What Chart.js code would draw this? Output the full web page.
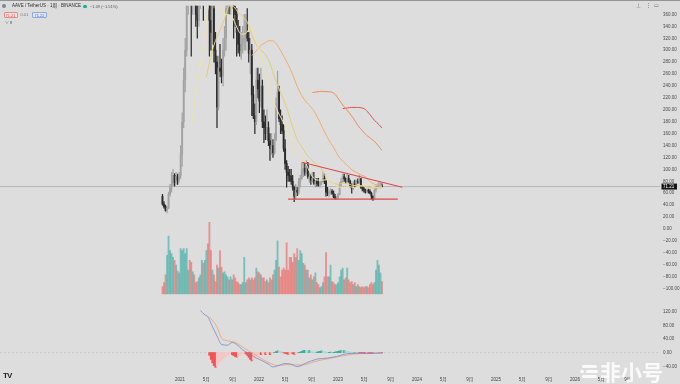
<!DOCTYPE html>
<html>
<head>
<meta charset="utf-8">
<script src="https://cdn.jsdelivr.net/npm/chart.js@4.4.1/dist/chart.umd.min.js"></script>
<style>
  html, body { margin: 0; padding: 0; background: #dddddd; width: 680px; height: 384px; overflow: hidden; }
  body { font-family: 'Liberation Sans', 'Noto Sans CJK SC', sans-serif; }
  #wrap { position: relative; width: 680px; height: 384px; }
  canvas { position: absolute; left: 0; }
  #main { top: 0; }
  #macd { top: 300px; }
  .t { position: absolute; white-space: nowrap; line-height: 1; }
  .box { position: absolute; box-sizing: border-box; border-radius: 1px; text-align: center; line-height: 5px; font-size: 4px; }
</style>
</head>
<body>
<div id="wrap">
  <canvas id="main" width="680" height="300"></canvas>
  <canvas id="macd" width="680" height="84"></canvas>

  <div style="position:absolute;left:0;top:0;width:680px;height:1px;background:#939393"></div>
  <div style="position:absolute;left:1.5px;top:4px;width:4px;height:4px;border-radius:50%;background:#7786a6"></div>
  <div class="t" style="left:12px;top:4px;font-size:4.5px;color:#2b2b2b">AAVE / TetherUS · 1周 · BINANCE</div>
  <div style="position:absolute;left:83px;top:4.5px;width:3.5px;height:3.5px;border-radius:50%;background:#26a69a;box-shadow:0 0 0 1px #bfe3de"></div>
  <div class="t" style="left:90px;top:4.5px;font-size:4px;color:#555">−1.09 (−1.51%)</div>
  <div class="box" style="left:3.5px;top:11.5px;width:14px;height:6px;border:0.5px solid #e58a8a;background:#f3e2e2;color:#e05252">71.21</div>
  <div class="t" style="left:20.5px;top:13px;font-size:4px;color:#777">0.01</div>
  <div class="box" style="left:32px;top:11.5px;width:15px;height:6px;border:0.5px solid #8aa6de;background:#e3e9f4;color:#3d68c8">71.22</div>
  <div class="t" style="left:5px;top:21px;font-size:4px;color:#555">∨ 8</div>

  <div class="t" style="left:636px;top:3px;font-size:5px;color:#666">⊥</div>
  <div class="t" style="left:645.5px;top:3px;font-size:5px;color:#666">⋮</div>
  <div class="t" style="left:654px;top:3px;font-size:5px;color:#666">▭</div>

  <div class="t" style="left:3px;top:372px;font-size:8px;font-weight:bold;color:#1f1f1f;letter-spacing:-1px">TV</div>

  <div style="position:absolute;left:582px;top:365px;width:15px;height:3px;border-radius:2px;background:rgba(255,255,255,0.85)"></div>
  <div style="position:absolute;left:580px;top:370px;width:4px;height:3px;border-radius:2px;background:rgba(255,255,255,0.85)"></div>
  <div style="position:absolute;left:586px;top:370px;width:12px;height:3px;border-radius:2px;background:rgba(255,255,255,0.85)"></div>
  <div style="position:absolute;left:582px;top:375px;width:15px;height:3px;border-radius:2px;background:rgba(255,255,255,0.85)"></div>
  <div class="t" style="left:600px;top:361px;font-size:21px;font-weight:bold;color:rgba(255,255,255,0.85);font-family:'Noto Sans CJK SC',sans-serif">非小号</div>
</div>

<script>
// AAVE / USDT weekly candles, first week starts 2020-10-12
const startDate = Date.UTC(2020, 9, 12);
const opens = [55,42,37,31,35,58,70,75,90,78,88,82,90,125,180,250,300,420,500,480,
  400,420,400,360,350,400,410,470,420,450,540,480,350,330,370,300,280,205,270,265,
  257,300,320,370,410,380,390,440,370,360,330,310,300,310,320,320,330,320,295,300,
  225,190,180,250,235,215,240,180,170,160,170,148,135,140,128,150,210,230,185,175,
  165,135,110,95,90,88,80,70,55,65,62,80,85,100,102,95,107,88,88,82,
  85,77,80,76,74,78,80,85,80,62,60,62,63,60,54,52,52,58,75,80,
  88,84,80,85,80,72,68,76,74,80,78,84,70,68,65,62,65,63,60,55,
  51,65,70,72,72,72.3];
const highs = [58,46,40,38,62,75,95,100,93,95,92,95,140,195,270,320,460,540,590,500,
  450,460,420,390,420,430,500,490,470,560,660,500,380,390,380,330,290,290,310,285,
  320,340,380,440,440,420,480,470,400,370,350,340,330,340,360,360,370,330,320,310,
  240,210,270,270,260,270,250,200,190,200,180,160,160,150,160,220,265,240,200,190,
  175,150,115,105,100,100,90,72,75,70,85,90,110,112,110,115,112,95,92,95,
  95,85,85,85,80,82,96,92,82,70,66,68,66,64,58,55,60,78,85,92,
  92,86,94,90,82,76,80,82,82,84,90,85,73,72,67,67,67,66,62,56,
  68,72,76,80,78,76];
const lows = [40,35,30,27,34,55,62,72,72,75,75,78,85,105,170,230,290,360,420,290,
  360,380,340,320,340,370,390,350,400,430,440,290,300,310,280,260,170,200,255,245,
  240,290,300,360,360,360,380,320,340,290,295,290,285,295,300,300,315,280,260,190,
  185,160,175,220,195,205,170,145,150,150,140,115,125,120,125,148,200,180,160,160,
  130,100,70,80,80,75,65,46,50,56,58,70,83,88,90,92,85,78,75,78,
  75,70,72,72,70,74,78,76,55,56,54,58,58,52,50,50,51,57,72,78,
  80,76,78,78,70,60,66,70,72,76,77,68,64,62,60,61,60,59,50,48,
  51,62,68,68,69,70.5];
const closes = [42,37,31,35,58,70,75,90,78,88,82,90,125,180,250,300,420,500,480,400,
  420,400,360,350,400,410,470,420,450,540,480,350,330,370,300,280,205,270,265,257,
  300,320,370,410,380,390,440,370,360,330,310,300,310,320,320,330,320,295,300,225,
  190,180,250,235,215,240,180,170,160,170,148,135,140,128,150,210,230,185,175,165,
  135,110,95,90,88,80,70,55,65,62,80,85,100,102,95,107,88,88,82,85,
  77,80,76,74,78,80,85,80,62,60,62,63,60,54,52,52,58,75,80,88,
  84,80,85,80,72,68,76,74,80,78,84,70,68,65,62,65,63,60,55,51,
  65,70,72,72,72.3,71.21];
// weekly volume, scaled units
const volume = [8,12,20,40,60,45,42,38,35,30,
  24,22,47,45,47,42,47,25,35,33,
  23,20,12,13,17,20,35,32,35,45,
  52,74,45,25,20,13,30,27,45,28,
  22,23,20,18,15,18,15,20,17,13,
  12,10,10,12,38,12,15,17,15,17,
  15,17,27,23,22,20,17,17,13,15,
  12,17,15,20,25,35,55,28,18,25,
  27,25,53,25,38,38,33,42,38,47,
  35,45,42,32,30,25,25,17,20,15,
  18,22,12,10,7,8,12,18,43,18,
  18,30,13,12,10,10,12,18,25,27,
  15,17,27,15,12,13,10,12,8,10,
  8,7,8,7,8,8,7,10,12,10,
  12,25,35,30,22,13];

// moving averages: [week index], [price]
const ma20W = [19,22,25,28,31,34,37,40,43,46,49,52,55,58,61,64,67,70,73,76,79,82,85,88,91,94,97,100,103,106,109,112,115,118,121,124,127,130,133,136,139,142,145];
const ma20V = [171.6,225,275,330,385,407.5,384,360,360,356,339,327,328,337,322,300,269,243,217,198,183,169,147,131,120,114,97,85,82,82,83,79,72,70,70,71,69,72,73,75,71,69,68.7];
const ma30W = [29,32,35,38,41,44,47,50,53,56,59,62,65,68,71,74,77,80,83,86,89,92,95,98,101,104,107,110,113,116,119,122,125,128,131,134,137,140,143,145];
const ma30V = [255,290,316,333,353,374,373,363,357,347,327,309,300,293,278,254,235,217,196,171,150,138,125.5,117,110,104,91,81,77,75,77,76,73.6,72.7,72.3,71.2,69.3,68.9,70.1,71.4];
const ma60W = [59,62,65,68,71,74,77,80,83,86,89,92,95,98,101,104,107,110,113,116,119,122,125,128,131,134,137,140,143,145];
const ma60V = [291,299,308,313,316,314,304,290,276,259,239,224,213,205,194,179,163,149,137,123,114,107,99.6,95,91,87.5,80,75,74,73.4];
const ma100W = [99,102,105,108,111,114,117,120,123,126,129,132,135,138,141,144,145];
const ma100V = [229,230,231,230.5,230,226,215.5,205,196,186,174,165,157,151,144.5,135,132];
const ma120W = [119,122,125,128,131,134,137,140,143,145];
const ma120V = [202,203,204,204,203.5,200.5,192,182.5,175,169.5];

// drawn triangle
const trendW = [92, 158.4];
const trendV = [112, 70];
const supportW = [83, 155.4];
const supportV = [50.2, 50.2];

// MACD pane
const macdW = [25,28,30,33,36,39,43,46,49,53,58,62,66,70,73,77,81,85,89,95,102,109,115,122,128,137,145];
const macdV = [124,111,105,76,49,24,22,30,24,8,-5,-16,-24,-34,-42,-37,-32,-34,-41,-30,-19,-16,-11,-3,-2,-2,-1];
const signalW = [31,36,39,43,48,53,60,66,72,77,82,88,93,100,108,115,122,130,145];
const signalV = [105,76,43,35,30,16,-3,-19,-33,-38,-35,-36,-36,-27,-19,-13,-7,-3,-1];
const histStart = 31;
const macdHist = [-8,-20,-30,-38,-43,-40,-33,-27,-22,-17,-13,-10,-7,-5,-3,-6,-9,-12,-13,-11,
  -8,-5,-3,-2,-4,-8,-14,-20,-24,-22,-16,-10,-6,-4,-6,-3,-2,-6,-3,-2,
  -6,-3,-1,1,3,5,4,3,2,-1,-2,-4,-5,-4,-3,-4,-5,-3,-1,1,
  2,4,6,7,6,5,6,4,3,2,1,2,3,4,5,4,3,2,1,1,
  2,1,1,2,3,4,5,6,5,6,5,4,3,2,1,0.5,0.5,0.3,0.2,-1,
  -2,-2,-3,-3,-2,-2,-2,-3,-3,-2,-1,-0.5,0.5,0.3,-0.5];

// axes
const priceTicks = [360,340,320,300,280,260,240,220,200,180,160,140,120,100,80,60,40,20,0,-20,-40,-60,-80,-100];
const macdTicks = [120,80,40,0,-40];
const xTickMonths = [0,4,8,12,16,20,24,28,32,36,40,44,48,52,56,60,64,68];
const xTickLabels = ['2021','5月','9月','2022','5月','9月','2023','5月','9月','2024','5月','9月','2025','5月','9月','2026','5月','9月'];

const X_MIN = -180 / 79, X_MAX = 480 / 79;   // years from 2021-01-01
const DAY = 86400000;
const weekToT = w => ((startDate - Date.UTC(2021, 0, 1)) / DAY + 7 * w) / 365.25;
const pts = (W, V) => W.map((w, k) => ({ x: weekToT(w), y: V[k] }));

const FONT = "'Liberation Sans', 'Noto Sans CJK SC', sans-serif";
Chart.defaults.font.family = FONT;
const fmt = v => (v < 0 ? '−' : '') + Math.abs(v).toFixed(2);

const UP = '#a3a3a3', DOWN = '#2c2c2c';
const dir = opens.map((o, i) => closes[i] >= o);

const line = (data, color, extra) => Object.assign({
  type: 'line', data, borderColor: color, borderWidth: 1, pointRadius: 0,
  cubicInterpolationMode: 'monotone', fill: false, order: 2
}, extra || {});

const lastLabel = {
  id: 'lastLabel',
  afterDraw(chart) {
    const { ctx } = chart;
    const y = chart.scales.y;
    const last = closes[closes.length - 1];
    const py = y.getPixelForValue(last);
    ctx.save();
    ctx.fillStyle = '#151515';
    ctx.fillRect(y.left + 1.5, py - 3, 15.5, 6);
    ctx.fillStyle = '#ffffff';
    ctx.font = '4.5px ' + FONT;
    ctx.textBaseline = 'middle';
    ctx.fillText(fmt(last), y.left + 3, py + 0.3);
    ctx.restore();
  }
};

new Chart(document.getElementById('main'), {
  type: 'bar',
  data: {
    datasets: [
      { label: 'volume', yAxisID: 'vol', data: volume.map((v, i) => ({ x: weekToT(i), y: v })),
        backgroundColor: dir.map(u => u ? 'rgba(38,166,154,0.55)' : 'rgba(239,83,80,0.55)'),
        barThickness: 1.2, grouped: false, order: 10 },
      { label: 'wick', data: highs.map((h, i) => ({ x: weekToT(i), y: [lows[i], h] })),
        backgroundColor: dir.map(u => u ? UP : DOWN), barThickness: 0.6, grouped: false, order: 6 },
      { label: 'body', data: opens.map((o, i) => ({ x: weekToT(i), y: [o, closes[i]] })),
        backgroundColor: dir.map(u => u ? UP : DOWN), barThickness: 1.2, minBarLength: 0.8, grouped: false, order: 5 },
      line([{ x: X_MIN, y: closes[closes.length - 1] }, { x: X_MAX, y: closes[closes.length - 1] }], '#a9a9a9', { borderWidth: 0.7, order: 7 }),
      line(pts(ma20W, ma20V), '#eee2a6'),
      line(pts(ma30W, ma30V), '#e8cc6e'),
      line(pts(ma60W, ma60V), '#f0ad68'),
      line(pts(ma100W, ma100V), '#eb8c5a'),
      line(pts(ma120W, ma120V), '#d9534c'),
      line(pts(trendW, trendV), '#e0474a', { borderWidth: 1.1, order: 1, cubicInterpolationMode: 'default', tension: 0 }),
      line(pts(supportW, supportV), '#e0474a', { borderWidth: 1.1, order: 1, cubicInterpolationMode: 'default', tension: 0 })
    ]
  },
  options: {
    responsive: false, animation: false, events: [],
    layout: { padding: { top: 1, bottom: 2, left: 0, right: 0 } },
    plugins: { legend: { display: false }, tooltip: { enabled: false } },
    scales: {
      x: { type: 'linear', min: X_MIN, max: X_MAX, offset: false, display: false },
      y: {
        position: 'right', min: -109.56, max: 374.67,
        grid: { display: false, drawTicks: false }, border: { display: false },
        afterBuildTicks: ax => { ax.ticks = priceTicks.map(v => ({ value: v })); },
        afterFit: ax => { ax.width = 20; },
        ticks: { padding: 3, color: '#4a4a4a', font: { size: 4.5 }, callback: v => fmt(v) }
      },
      vol: { display: false, min: 0, max: 297 }
    }
  },
  plugins: [lastLabel]
});

const histColors = macdHist.map((v, k) => {
  const prev = k > 0 ? macdHist[k - 1] : 0;
  if (v >= 0) return v >= prev ? '#3fae9f' : '#aad8d1';
  return v <= prev ? '#f25555' : '#f5c6c6';
});

new Chart(document.getElementById('macd'), {
  type: 'bar',
  data: {
    datasets: [
      line([{ x: X_MIN, y: 0 }, { x: X_MAX, y: 0 }], 'rgba(130,130,130,0.45)', { borderWidth: 0.5, borderDash: [2, 2], order: 9 }),
      { label: 'hist', data: macdHist.map((v, k) => ({ x: weekToT(histStart + k), y: v })),
        backgroundColor: histColors, barThickness: 1.55, grouped: false, order: 8 },
      line(pts(macdW, macdV), '#7489d2', { borderWidth: 0.8 }),
      line(pts(signalW, signalV), '#ef9d6c', { borderWidth: 0.8 })
    ]
  },
  options: {
    responsive: false, animation: false, events: [],
    layout: { padding: 0 },
    plugins: { legend: { display: false }, tooltip: { enabled: false } },
    scales: {
      x: {
        type: 'linear', min: X_MIN, max: X_MAX, offset: false,
        grid: { display: false, drawTicks: false }, border: { display: false },
        afterBuildTicks: ax => { ax.ticks = xTickMonths.map(m => ({ value: m / 12 })); },
        afterFit: ax => { ax.height = 12; },
        ticks: { autoSkip: false, maxRotation: 0, padding: 5, color: '#444', font: { size: 4.5 },
          callback: (v, i) => xTickLabels[i] }
      },
      y: {
        position: 'right', min: -56.8, max: 137.8,
        grid: { display: false, drawTicks: false }, border: { display: false },
        afterBuildTicks: ax => { ax.ticks = macdTicks.map(v => ({ value: v })); },
        afterFit: ax => { ax.width = 20; },
        ticks: { padding: 3, color: '#4a4a4a', font: { size: 4.5 }, callback: v => fmt(v) }
      }
    }
  }
});
</script>
</body>
</html>
